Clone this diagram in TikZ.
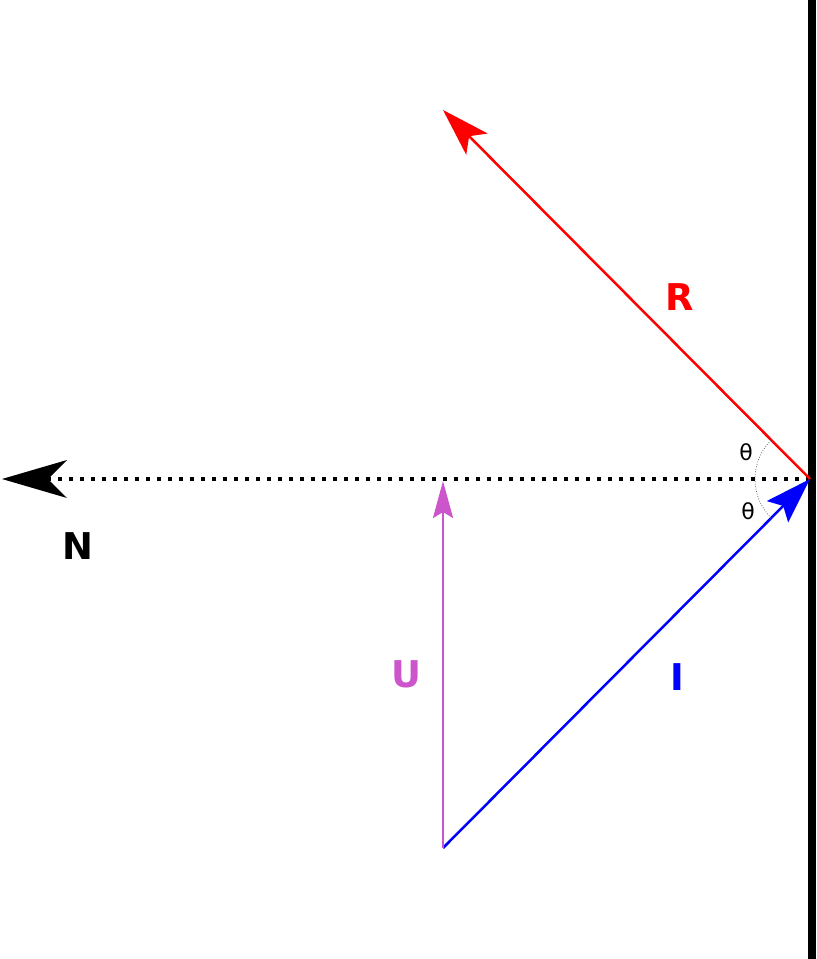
\documentclass[tikz,border=0pt]{standalone}
\usepackage{fontspec}
\setmainfont{DejaVu Sans}
\usepackage{xcolor}
\usetikzlibrary{arrows.meta}
\definecolor{umagenta}{HTML}{CC55CC}

\begin{document}
\begin{tikzpicture}[x=0.02cm, y=-0.02cm,
  vec/.style={line width=0.05cm},
  lbl/.style={font=\fontsize{21}{22}\selectfont\bfseries, inner sep=0pt},
  ang/.style={font=\fontsize{12.5}{13}\selectfont, inner sep=0pt}]
\useasboundingbox (0,0) rectangle (816,959);

% points
\coordinate (hit) at (810,479);
\coordinate (base) at (443,848);
\coordinate (rtip) at (443,110);
\coordinate (ntip) at (2,479);
\coordinate (utip) at (443,481);

% wall
\draw[line width=0.16cm] (812,0) -- (812,959);

% normal
\draw[line width=0.08cm, dash pattern=on 0.08cm off 0.14cm] (hit) -- (48,479);
\fill (ntip) -- (67,460) -- (48,479) -- (67,498) -- cycle;

% vectors
\draw[vec, red, -{Stealth[length=0.96cm, width=0.6cm, inset=0.22cm]}] (hit) -- (rtip);
\draw[vec, blue, -{Stealth[length=0.92cm, width=0.6cm, inset=0.16cm]}] (base) -- (hit);
\draw[vec, umagenta, -{Stealth[length=0.74cm, width=0.4cm, inset=0.12cm]}] (base) -- (utip);

% angle arc
\draw[black!70, line width=0.015cm, densely dotted] ([shift={(135:55)}]hit) arc (135:225:55);

% labels
\node[lbl] (nlabel) at (78,546) {N};
\node[lbl, red] (rlabel) at (680,297) {R};
\node[lbl, umagenta] (ulabel) at (406,674) {U};
\node[lbl, blue] (ilabel) at (677,677) {I};
\node[ang] (th1) at (746,452) {θ};
\node[ang] (th2) at (748,511) {θ};
\end{tikzpicture}
\end{document}
